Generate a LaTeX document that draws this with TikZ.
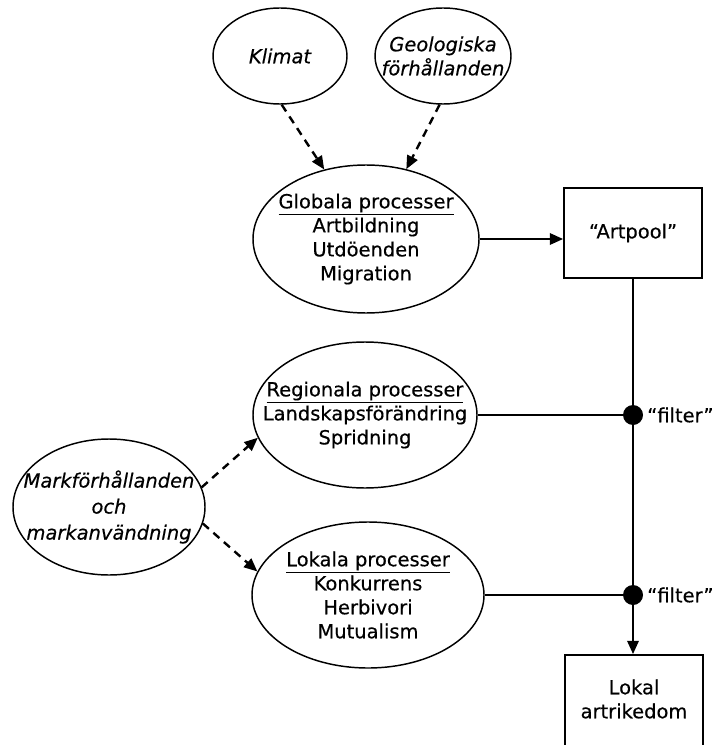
\documentclass[tikz,border=0pt]{standalone}
\usepackage{fontspec}
\setmainfont{DejaVu Sans}[FakeBold=0.35]
\usetikzlibrary{shapes.geometric,arrows.meta}
\newcommand{\dgfont}{\fontsize{14.6}{18}\selectfont}
\begin{document}
\begin{tikzpicture}[x=0.75pt,y=-0.75pt,
  oval/.style={ellipse, draw, line width=1.1pt, inner sep=0pt},
  box/.style={rectangle, draw, line width=1.3pt, inner sep=0pt},
  txt/.style={align=center, inner sep=0pt, font=\dgfont},
  itxt/.style={align=center, inner sep=0pt, font=\dgfont\itshape},
  dot/.style={circle, fill=black, inner sep=0pt, minimum size=15pt},
  link/.style={line width=1.8pt},
  tip/.style={-{Triangle[length=10pt,width=8.5pt]}},
  dashlink/.style={line width=1.8pt, dash pattern=on 6pt off 4.5pt, -{Triangle[length=10pt,width=8.5pt]}}]
\useasboundingbox (0,0) rectangle (725,745);
\fill[white] (0,0) rectangle (725,745);

% factor ellipses
\node[oval, minimum width=100.5pt, minimum height=72pt] (klimat) at (280,56) {};
\node[itxt] (klimattxt) at (klimat) {Klimat};
\node[oval, minimum width=102pt, minimum height=72pt] (geo) at (443,56) {};
\node[itxt] (geotxt) at (geo) {Geologiska\\förhållanden};
\node[oval, minimum width=144pt, minimum height=102pt] (mark) at (109,507) {};
\node[itxt] (marktxt) at (mark) {Markförhållanden\\[1.5pt]och\\[1.5pt]markanvändning};

% process ellipses
\node[oval, minimum width=169.5pt, minimum height=111pt] (glob) at (366,239) {};
\node[txt] (globtxt) at (glob) {\underline{Globala processer}\\Artbildning\\Utdöenden\\Migration};
\node[oval, minimum width=168pt, minimum height=109.5pt] (reg) at (365,415) {};
\node[txt] (regtxt) at (reg) {\underline{Regionala processer}\\Landskapsförändring\\Spridning};
\node[oval, minimum width=174pt, minimum height=109.5pt] (lok) at (368,595) {};
\node[txt] (loktxt) at (lok) {\underline{Lokala processer}\\Konkurrens\\Herbivori\\Mutualism};

% boxes
\node[box, minimum width=103.5pt, minimum height=67.5pt] (pool) at (633,233) {};
\node[txt] (pooltxt) at (pool) {“Artpool”};
\node[box, minimum width=103.5pt, minimum height=72pt] (lokal) at (634,703) {};
\node[txt] (lokaltxt) at (634,699) {Lokal\\artrikedom};

% filters
\coordinate (f1) at (633,415);
\coordinate (f2) at (633,595);

% connectors
\draw[dashlink] (klimat.-88) -- (glob.121);
\draw[dashlink] (geo.-94) -- (glob.60);
\draw[dashlink] (mark.12) -- (reg.192);
\draw[dashlink] (mark.-10) -- (lok.168);
\draw[link, tip] (glob.east) -- (glob.east -| pool.west);
\draw[link] (pool.south) -- (f1);
\draw[link] (f1) -- (f2);
\draw[link, tip] (f2) -- (f2 |- lokal.north);
\draw[link] (reg.east) -- (f1);
\draw[link] (lok.east) -- (f2);

\node[dot] (d1) at (f1) {};
\node[dot] (d2) at (f2) {};
\node[txt, anchor=west] (fl1) at (647,415) {“filter”};
\node[txt, anchor=west] (fl2) at (647,595) {“filter”};
\end{tikzpicture}
\end{document}
